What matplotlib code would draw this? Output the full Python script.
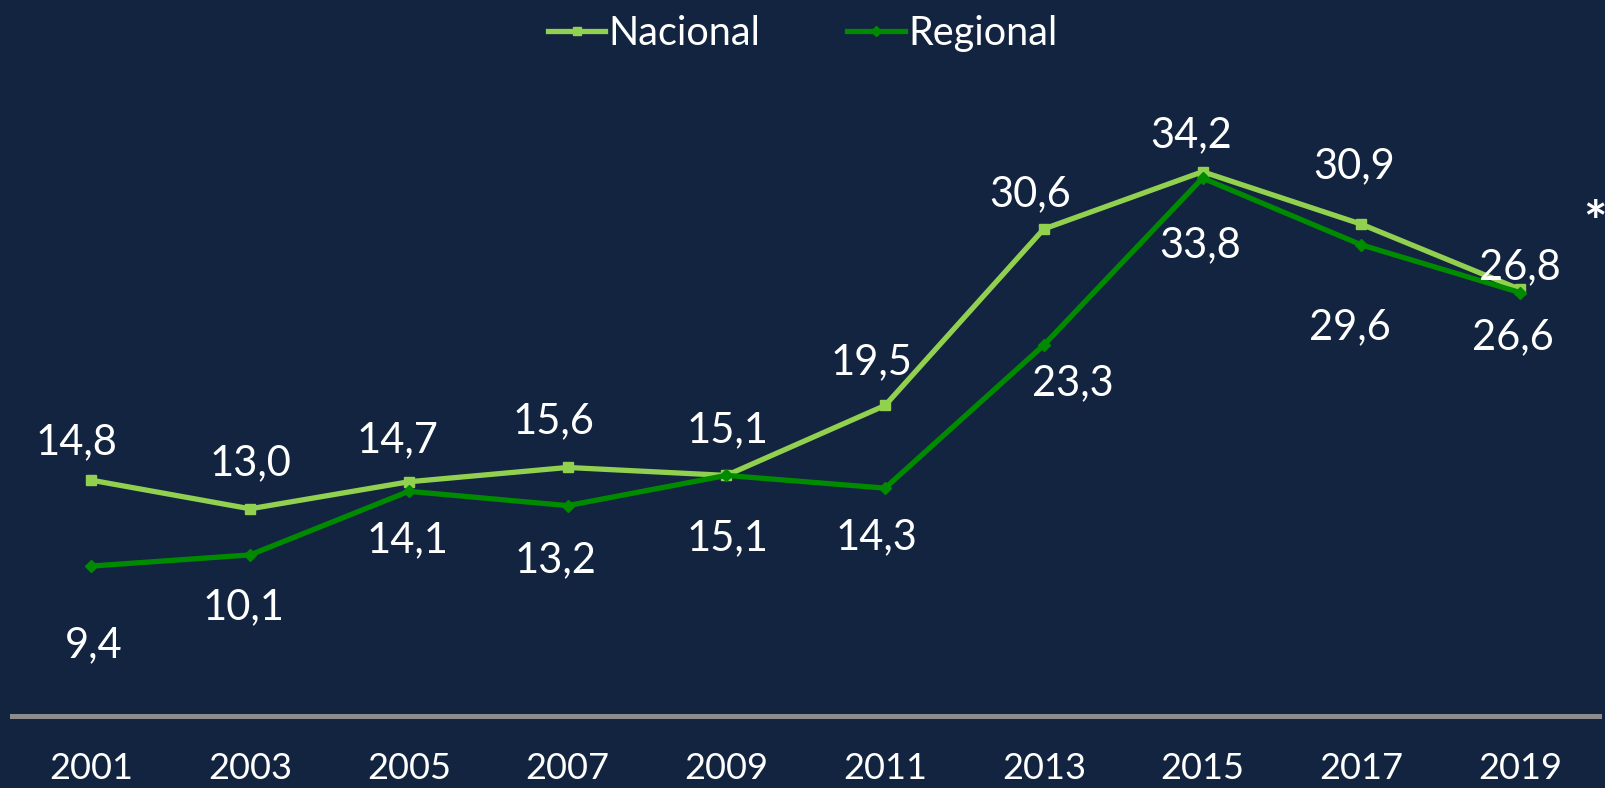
import numpy as np
import matplotlib.pyplot as plt

years = ['2001', '2003', '2005', '2007', '2009', '2011', '2013', '2015', '2017', '2019']
nacional = [14.8, 13.0, 14.7, 15.6, 15.1, 19.5, 30.6, 34.2, 30.9, 26.8]
regional = [9.4, 10.1, 14.1, 13.2, 15.1, 14.3, 23.3, 33.8, 29.6, 26.6]

# label offsets in pixels (hand placed, like the original)
nac_off = [(-15, 38), (0, 46), (-11, 42), (-14, 46), (1, 45), (-14, 43), (-14, 35), (-11, 37), (-7, 58), (0, 22)]
reg_off = [(2, -79), (-7, -52), (-1, -49), (-12, -55), (1, -63), (-9, -49), (29, -38), (-2, -67), (-11, -82), (-7, -45)]

bg = '#12243f'
c_nac = '#92d050'
c_reg = '#008a00'
plt.rcParams['font.family'] = ['Lato', 'DejaVu Sans']

fig = plt.figure(figsize=(16.05, 7.88), dpi=100, facecolor=bg)
ax = fig.add_axes([0.0075, 0.092, 0.989, 0.908])
ax.set_facecolor(bg)

x = np.arange(len(years))
ax.plot(x, nacional, color=c_nac, lw=3.8, marker='s', ms=7, label='Nacional')
ax.plot(x, regional, color=c_reg, lw=3.8, marker='D', ms=6, label='Regional')

for i in range(len(years)):
    ax.annotate(f'{nacional[i]:.1f}'.replace('.', ','), (x[i], nacional[i]),
                xytext=nac_off[i], textcoords='offset pixels',
                ha='center', va='center', color='white', fontsize=30)
    ax.annotate(f'{regional[i]:.1f}'.replace('.', ','), (x[i], regional[i]),
                xytext=reg_off[i], textcoords='offset pixels',
                ha='center', va='center', color='white', fontsize=30)

ax.set_xlim(-0.5, 9.5)
ax.set_ylim(0, 45)
ax.set_xticks(x)
ax.set_xticklabels(years, fontsize=26, color='white')
ax.set_yticks([])
ax.tick_params(axis='x', length=0, pad=26)
for s in ['top', 'left', 'right']:
    ax.spines[s].set_visible(False)
ax.spines['bottom'].set_color('#8c8c8c')
ax.spines['bottom'].set_linewidth(3.6)

leg = fig.legend(loc='center', bbox_to_anchor=(0.5, 0.958), ncol=2, frameon=False,
                 fontsize=28.5, labelcolor='white', handlelength=1.45, handletextpad=0.08,
                 columnspacing=2.2, markerscale=0.8)

fig.text(0.994, 0.694, '*', color='white', fontsize=40, fontweight='bold',
         ha='center', va='baseline')

fig.savefig('out.png', dpi=100, facecolor=bg)
